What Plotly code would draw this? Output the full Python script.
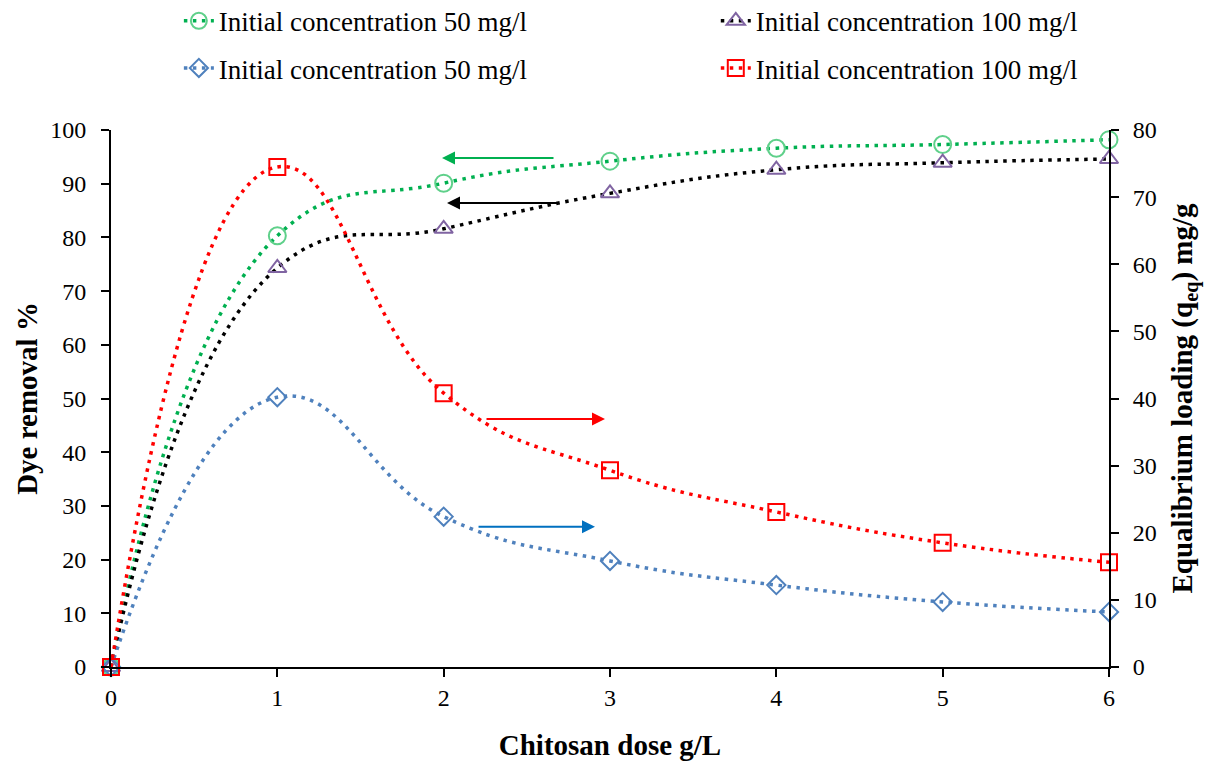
import plotly.graph_objects as go

dose = [0, 1, 2, 3, 4, 5, 6]
removal_50 = [0, 80.3, 90.1, 94.2, 96.6, 97.3, 98.2]
removal_100 = [0, 74.3, 81.6, 88.2, 92.6, 93.9, 94.6]
loading_50 = [0, 40.2, 22.4, 15.8, 12.2, 9.7, 8.2]
loading_100 = [0, 74.5, 40.8, 29.3, 23.1, 18.5, 15.6]

names = ["Initial concentration 50 mg/l", "Initial concentration 100 mg/l",
         "Initial concentration 50 mg/l", "Initial concentration 100 mg/l"]

FONT = "Times New Roman, Liberation Serif, Tinos, serif"
DASH = "3.5px,5.5px"
SMOOTH = 1.3

fig = go.Figure()

fig.add_trace(go.Scatter(
    x=dose, y=removal_50, name=names[0], mode="lines+markers",
    line=dict(color="#00B050", width=3.5, dash=DASH, shape="spline", smoothing=SMOOTH),
    marker=dict(symbol="circle-open", size=17, color="#5FD08A", line=dict(width=2, color="#5FD08A")),
    legend="legend", legendgroup="g1", cliponaxis=False, yaxis="y"))
fig.add_trace(go.Scatter(
    x=dose, y=removal_100, name=names[1], mode="lines+markers",
    line=dict(color="#000000", width=3.5, dash=DASH, shape="spline", smoothing=SMOOTH),
    marker=dict(symbol="triangle-up-open", size=16, color="#8064A2", line=dict(width=2, color="#8064A2")),
    legend="legend2", legendgroup="g2", cliponaxis=False, yaxis="y"))
fig.add_trace(go.Scatter(
    x=dose, y=loading_50, name=names[2], mode="lines+markers",
    line=dict(color="#4F81BD", width=3.5, dash=DASH, shape="spline", smoothing=SMOOTH),
    marker=dict(symbol="diamond-open", size=14, color="#4F81BD", line=dict(width=2, color="#4F81BD")),
    legend="legend", legendgroup="g3", cliponaxis=False, yaxis="y2"))
fig.add_trace(go.Scatter(
    x=dose, y=loading_100, name=names[3], mode="lines+markers",
    line=dict(color="#FF0000", width=3.5, dash=DASH, shape="spline", smoothing=SMOOTH),
    marker=dict(symbol="square-open", size=16, color="#FF0000", line=dict(width=2, color="#FF0000")),
    legend="legend2", legendgroup="g4", cliponaxis=False, yaxis="y2"))

# indicator arrows (head position in data coords, tail offset in px)
arrows = [
    dict(x=1.99, y=94.8, ax=113, color="#00B050"),
    dict(x=2.02, y=86.4, ax=113, color="#000000"),
    dict(x=2.97, y=46.2, ax=-120, color="#FF0000"),
    dict(x=2.91, y=26.1, ax=-118, color="#0070C0"),
]
for a in arrows:
    fig.add_annotation(x=a["x"], y=a["y"], xref="x", yref="y", ax=a["ax"], ay=0,
                       axref="pixel", ayref="pixel", text="", showarrow=True,
                       arrowhead=2, arrowsize=1.3, arrowwidth=2, arrowcolor=a["color"])

axis_common = dict(showline=True, linecolor="black", linewidth=2, ticks="outside",
                   ticklen=8, tickwidth=2, tickcolor="black", showgrid=False, zeroline=False,
                   tickfont=dict(family=FONT, size=24, color="black"), automargin=False)

fig.update_layout(
    width=1205, height=761,
    margin=dict(l=111, r=96, t=130, b=94, autoexpand=False),
    plot_bgcolor="white", paper_bgcolor="white",
    font=dict(family=FONT, color="black"),
    xaxis=dict(range=[0, 6], dtick=1, tick0=0,
               title=dict(text="<b>Chitosan dose g/L</b>", font=dict(family=FONT, size=29), standoff=29),
               **axis_common),
    yaxis=dict(range=[0, 100], dtick=10, tick0=0, ticklabelstandoff=10,
               title=dict(text="<b>Dye removal %</b>", font=dict(family=FONT, size=29), standoff=4),
               **axis_common),
    yaxis2=dict(range=[0, 80], dtick=10, tick0=0, overlaying="y", side="right", ticklabelstandoff=9,
                title=dict(text="<b>Equalibrium loading (q<sub>eq</sub>) mg/g</b>", font=dict(family=FONT, size=29), standoff=16),
                **axis_common),
    legend=dict(x=0.068, y=1.248, xanchor="left", yanchor="top", orientation="v",
                font=dict(family=FONT, size=27, color="black"), tracegroupgap=9,
                bgcolor="rgba(0,0,0,0)", traceorder="grouped"),
    legend2=dict(x=0.606, y=1.248, xanchor="left", yanchor="top", orientation="v",
                 font=dict(family=FONT, size=27, color="black"), tracegroupgap=9,
                 bgcolor="rgba(0,0,0,0)", traceorder="grouped"),
    showlegend=True,
)

fig.write_html("out.html")
